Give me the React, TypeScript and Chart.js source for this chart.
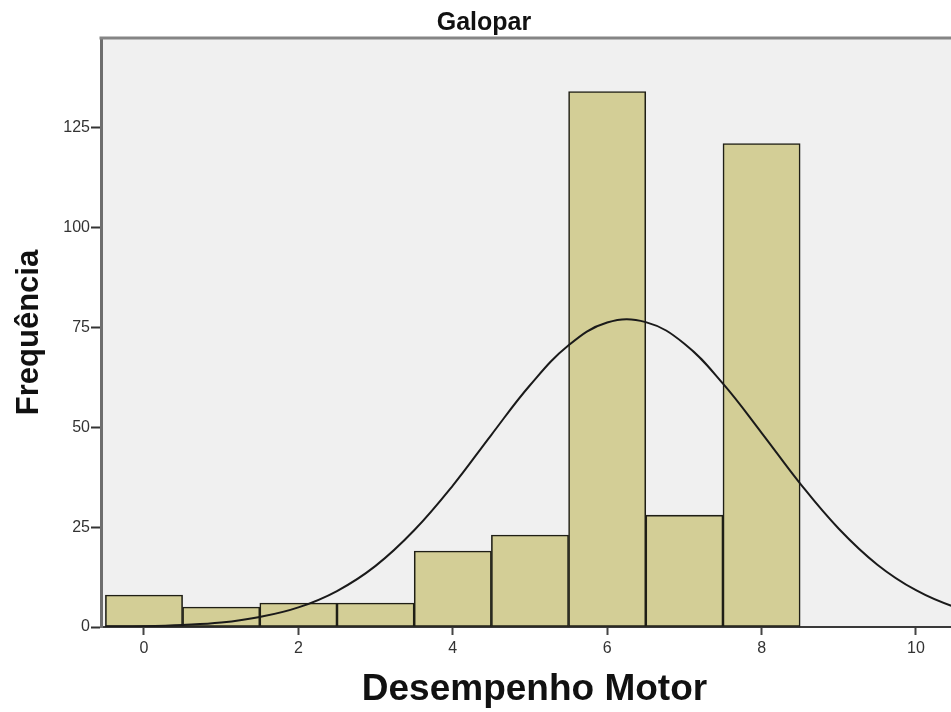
import React, { useEffect, useRef } from "react";
import { Chart, registerables } from "chart.js";

Chart.register(...registerables);

const binCenters = [0, 1, 2, 3, 4, 5, 6, 7, 8];
const frequencies = [8, 5, 6, 6, 19, 23, 134, 28, 121];
const curveX = [-0.5, 0, 0.5, 1, 1.5, 2, 2.5, 3, 3.5, 4, 4.5, 5, 5.5, 6, 6.5, 7, 7.5, 8, 8.5, 9, 9.5, 10, 10.5, 11];
const curveY = [0.1, 0.2, 0.5, 1.1, 2.5, 4.9, 9.0, 15.3, 24.2, 35.4, 48.1, 60.5, 70.5, 76.2, 76.3, 70.9, 60.9, 48.6, 35.9, 24.6, 15.6, 9.2, 5.0, 2.5];
const xTicks = [0, 2, 4, 6, 8, 10];
const yTicks = [0, 25, 50, 75, 100, 125];
const titleText = "Galopar";
const xTitle = "Desempenho Motor";
const yTitle = "Frequência";

const FONT = "'Liberation Sans', Arial, sans-serif";

const plotBg = {
  id: "plotBg",
  beforeDraw(chart: any) {
    const { ctx, chartArea } = chart;
    ctx.save();
    ctx.fillStyle = "#f0f0f0";
    ctx.fillRect(chartArea.left, chartArea.top, chartArea.right - chartArea.left, chartArea.bottom - chartArea.top);
    ctx.restore();
  },
  afterDraw(chart: any) {
    const { ctx, chartArea } = chart;
    ctx.save();
    ctx.strokeStyle = "#858585";
    ctx.lineWidth = 3;
    ctx.beginPath();
    ctx.moveTo(chartArea.left - 1.5, chartArea.top);
    ctx.lineTo(chartArea.right + 2, chartArea.top);
    ctx.stroke();
    ctx.restore();
  },
};

export default function App() {
  const ref = useRef<HTMLCanvasElement | null>(null);

  useEffect(() => {
    if (!ref.current) return;
    const chart = new Chart(ref.current, {
      type: "bar",
      data: {
        datasets: [
          {
            type: "line",
            data: curveX.map((x, i) => ({ x, y: curveY[i] })),
            borderColor: "#1a1a1a",
            borderWidth: 2,
            pointRadius: 0,
            tension: 0.4,
            fill: false,
            order: 0,
          } as any,
          {
            type: "bar",
            data: binCenters.map((x, i) => ({ x, y: frequencies[i] })),
            backgroundColor: "#d3ce96",
            borderColor: "#1f1f16",
            borderWidth: 1.6,
            borderSkipped: false,
            barPercentage: 1,
            categoryPercentage: 1,
            order: 1,
          } as any,
        ],
      },
      options: {
        animation: false,
        responsive: false,
        maintainAspectRatio: false,
        layout: { padding: 0 },
        plugins: {
          legend: { display: false },
          tooltip: { enabled: false },
          title: {
            display: true,
            text: titleText,
            color: "#111",
            font: { family: FONT, size: 25, weight: "bold", lineHeight: 1.2 },
            padding: { top: 8, bottom: 0 },
          },
        },
        scales: {
          x: {
            type: "linear",
            min: -0.557,
            max: 10.674,
            offset: false,
            afterBuildTicks: (scale: any) => {
              scale.ticks = xTicks.map((v) => ({ value: v }));
            },
            afterFit: (scale: any) => {
              scale.height = 85;
            },
            ticks: {
              color: "#333",
              font: { family: FONT, size: 16 },
              padding: 4,
              maxRotation: 0,
              autoSkip: false,
            },
            grid: {
              drawOnChartArea: false,
              drawTicks: true,
              tickLength: 8,
              tickColor: "#444",
              tickWidth: 2,
              offset: false,
            },
            border: { display: true, color: "#3a3a3a", width: 2 },
            title: {
              display: true,
              text: xTitle,
              color: "#111",
              font: { family: FONT, size: 37, weight: "bold", lineHeight: 1.0 },
              padding: { top: 0, bottom: 4 },
            },
          },
          y: {
            type: "linear",
            min: 0,
            max: 147.4,
            afterBuildTicks: (scale: any) => {
              scale.ticks = yTicks.map((v) => ({ value: v }));
            },
            afterFit: (scale: any) => {
              scale.width = 101;
            },
            ticks: {
              color: "#333",
              font: { family: FONT, size: 16 },
              padding: 1,
              autoSkip: false,
            },
            grid: {
              drawOnChartArea: false,
              drawTicks: true,
              tickLength: 10,
              tickColor: "#333",
              tickWidth: 2,
            },
            border: { display: true, color: "#6e6e6e", width: 3 },
            title: {
              display: true,
              text: yTitle,
              color: "#111",
              font: { family: FONT, size: 31, weight: "bold", lineHeight: 1.2 },
              padding: { top: 11, bottom: 0 },
            },
          },
        },
      },
      plugins: [plotBg],
    } as any);
    return () => chart.destroy();
  }, []);

  return (
    <div style={{ position: "absolute", left: 0, top: 0, width: 951, height: 712, overflow: "hidden", background: "#fff" }}>
      <canvas ref={ref} width={968} height={712} style={{ width: 968, height: 712, display: "block" }} />
    </div>
  );
}
